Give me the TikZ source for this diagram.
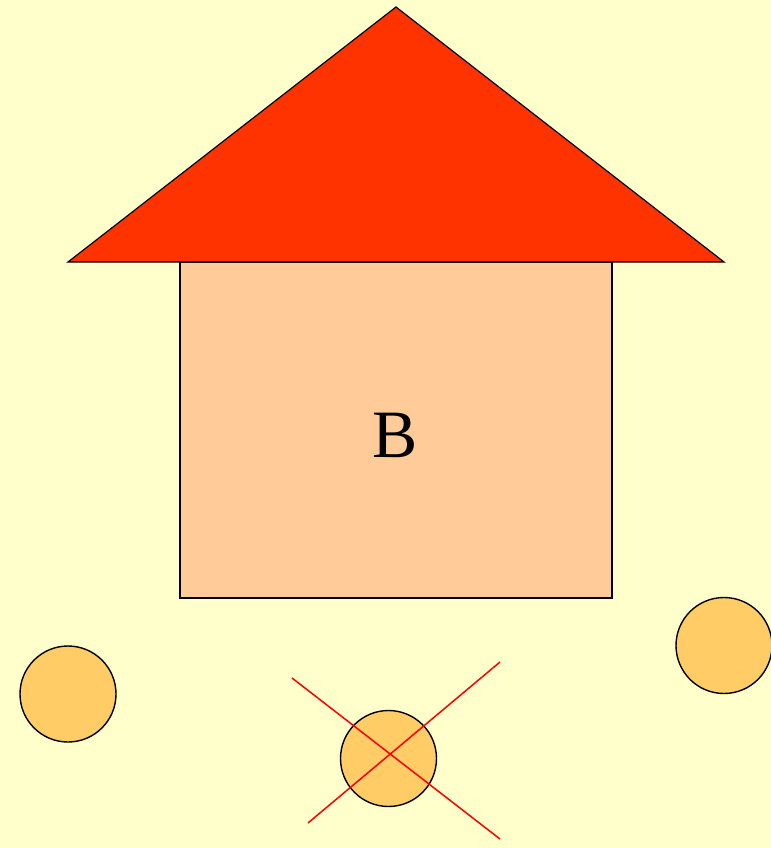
\documentclass[tikz,border=0pt]{standalone}
\usepackage{fontspec}
\setmainfont{Liberation Serif}
\usepackage{xcolor}
\usepackage{tikz}
\definecolor{sceneBg}{HTML}{FFFFCC}
\definecolor{roofRed}{HTML}{FF3300}
\definecolor{wallPeach}{HTML}{FFCC99}
\definecolor{ballGold}{HTML}{FFCC66}
\definecolor{crossRed}{HTML}{FF0000}
\tikzset{
  roofpart/.style={draw=black,fill=roofRed,line width=1.2bp,line join=miter},
  wallpart/.style={draw=black,fill=wallPeach,line width=1.2bp},
  ball/.style={circle,draw=black,fill=ballGold,line width=1.4bp,minimum size=96bp,inner sep=0pt},
  crossline/.style={draw=crossRed,line width=1.5bp}
}

\begin{document}
\begin{tikzpicture}[x=1bp,y=-1bp]
  % background
  \fill[sceneBg] (0,0) rectangle (771,848);
  \useasboundingbox (0,0) rectangle (771,848);
  % house
  \draw[wallpart] (180,262) rectangle (612,598);
  \draw[roofpart] (68,262) -- (396,7) -- (724,262) -- cycle;
  \node[font=\fontsize{68}{80}\selectfont,inner sep=0pt] (label) at (395,435) {B};
  % balls
  \node[ball] (ballL) at (68,694) {};
  \node[ball] (ballM) at (388.5,758.5) {};
  \node[ball] (ballR) at (724,645.5) {};
  % cross over the middle ball
  \draw[crossline] (292,678) -- (500,839);
  \draw[crossline] (308,823) -- (500,662);
\end{tikzpicture}
\end{document}
